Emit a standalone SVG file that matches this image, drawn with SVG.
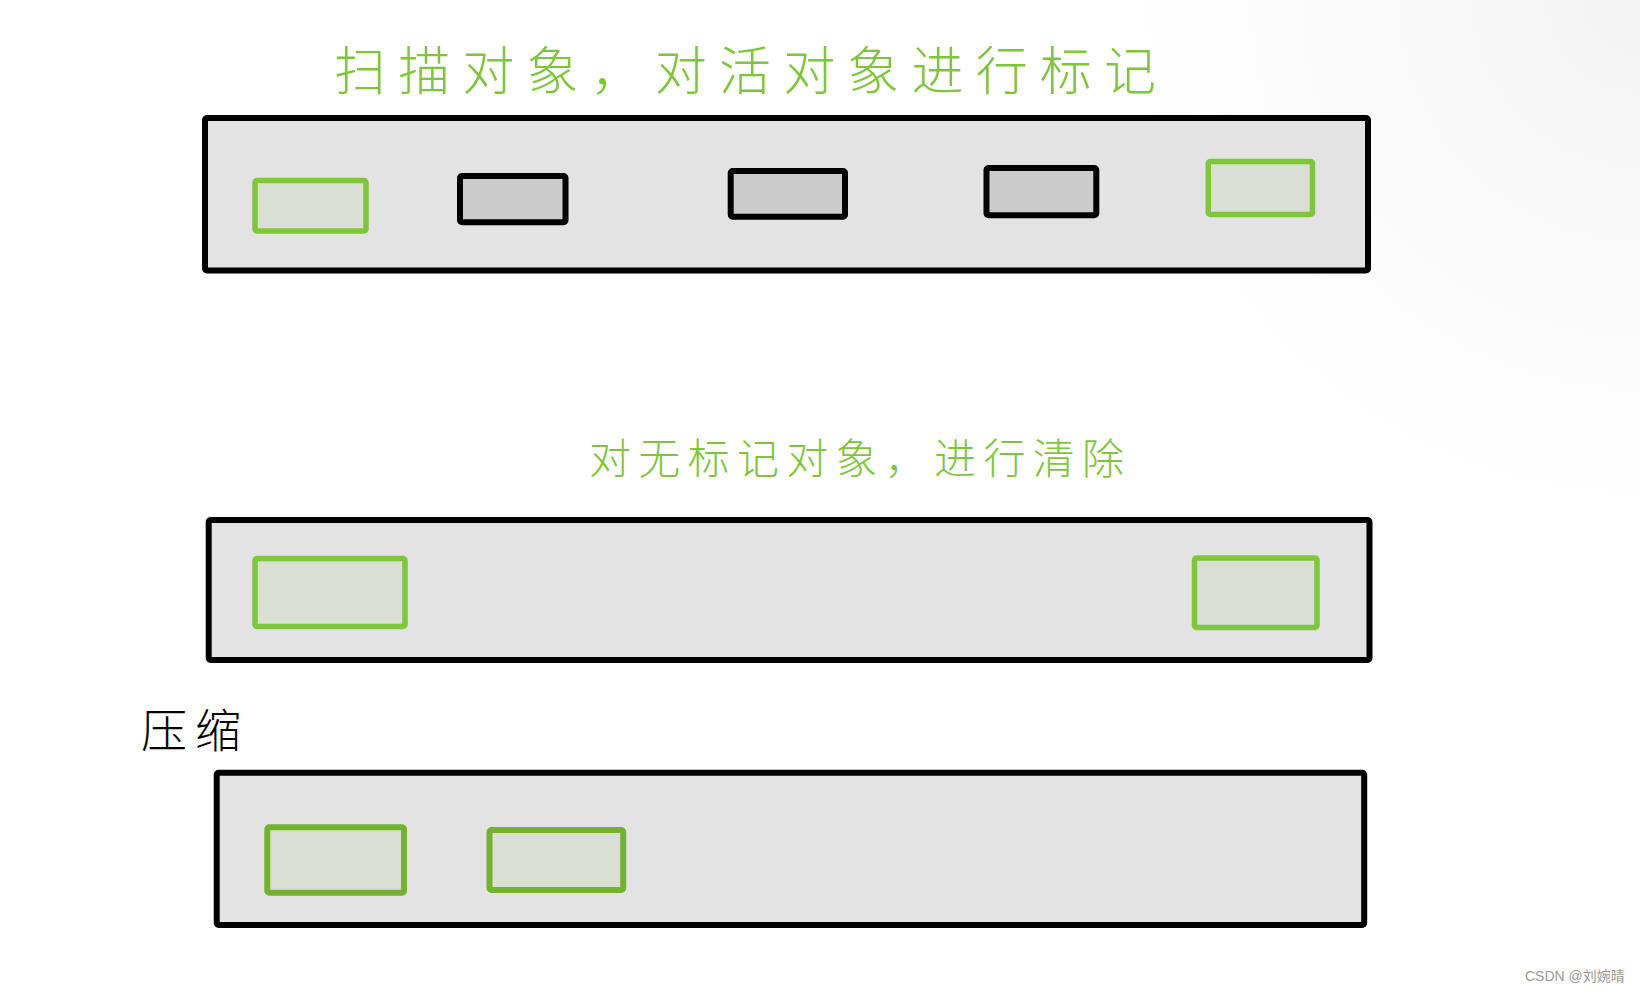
<svg xmlns="http://www.w3.org/2000/svg" width="1640" height="993" viewBox="0 0 1640 993">
<defs>
<radialGradient id="bgfade" cx="1640" cy="0" r="520" gradientUnits="userSpaceOnUse">
<stop offset="0" stop-color="#f3f3f3"/>
<stop offset="0.5" stop-color="#fafafa"/>
<stop offset="1" stop-color="#ffffff"/>
</radialGradient>
<style>
.heap{fill:#e3e3e3;stroke:#000;stroke-width:6;}
.dead{fill:#cccccc;stroke:#000;stroke-width:6;}
.live{fill:#d9dfd2;stroke:#7ec63b;stroke-width:5.5;}
.live2{fill:#d9dfd2;stroke:#72b22f;stroke-width:6;}
.hand{font-family:"Noto Sans CJK SC","Noto Sans CJK JP",sans-serif;fill:#7fc53c;font-weight:300;}
.wm{font-family:"Liberation Sans","Noto Sans CJK SC",sans-serif;font-size:14px;fill:#9a9a9a;}
</style>
</defs>
<rect x="0" y="0" width="1640" height="993" fill="url(#bgfade)"/>

<g id="step1">
<g id="heap1"><rect class="heap" x="205" y="118" width="1163" height="152.5" rx="2"/></g>
<g id="obj1a"><rect class="live" x="255" y="180.5" width="111" height="50.5" rx="2"/></g>
<g id="obj1b"><rect class="dead" x="460" y="176" width="105.5" height="46.3" rx="2"/></g>
<g id="obj1c"><rect class="dead" x="730.7" y="171" width="114.3" height="45.7" rx="2"/></g>
<g id="obj1d"><rect class="dead" x="986.5" y="168" width="109.8" height="47.3" rx="2"/></g>
<g id="obj1e"><rect class="live" x="1208.3" y="161.5" width="104.2" height="53" rx="2"/></g>
<text id="label1" class="hand" x="334" y="90" font-size="52" textLength="822" lengthAdjust="spacing">扫描对象，对活对象进行标记</text>
</g>

<g id="step2">
<g id="heap2"><rect class="heap" x="208.7" y="520" width="1160.8" height="140" rx="2"/></g>
<g id="obj2a"><rect class="live" x="255" y="558.5" width="150" height="68" rx="2"/></g>
<g id="obj2b"><rect class="live" x="1194.5" y="558" width="122.5" height="69.5" rx="2"/></g>
<text id="label2" class="hand" x="589" y="474" font-size="42" textLength="535" lengthAdjust="spacing">对无标记对象，进行清除</text>
</g>

<g id="step3">
<g id="heap3"><rect class="heap" x="216.7" y="772.7" width="1147.5" height="152.3" rx="2"/></g>
<g id="obj3a"><rect class="live2" x="267.3" y="827.3" width="136.7" height="65.4" rx="2"/></g>
<g id="obj3b"><rect class="live2" x="489.5" y="830" width="133.7" height="60" rx="2"/></g>
<text id="label3" x="141" y="747" font-size="46" textLength="100" lengthAdjust="spacing" font-family="'Noto Sans CJK SC','Noto Sans CJK JP',sans-serif" font-weight="300" fill="#000">压缩</text>
</g>

<g id="connectors"/>

<text class="wm" x="1525" y="981">CSDN @刘婉晴</text>
</svg>
